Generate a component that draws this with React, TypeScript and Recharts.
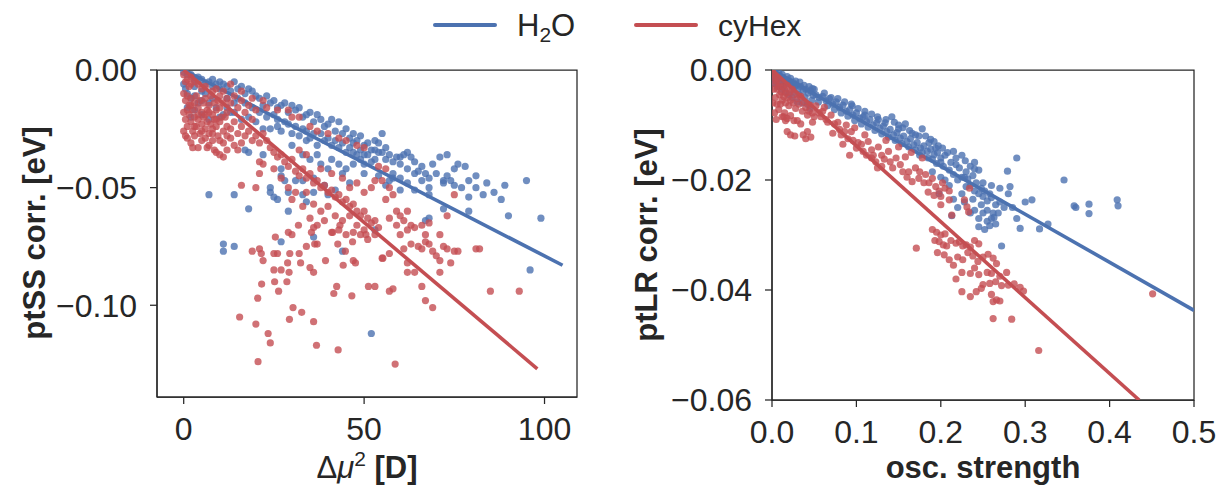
import React from "react";
import { ScatterChart, Scatter, XAxis, YAxis, ReferenceArea } from "recharts";

const BLUE = "#4C72B0";
const RED = "#C44E52";
const INK = "#262626";
const FONT = "'Liberation Sans', Arial, sans-serif";

// left panel: Δμ² [D] vs ptSS corr. [eV]
const ssXTicks = [0, 50, 100];
const ssYTicks = [0, -0.05, -0.1];

const ssWater: [number, number][] = [
  [0, -0.001], [1, -0.002], [2, -0.002], [3, -0.004], [4, -0.003], [5, -0.004], [6, -0.006], [7, -0.005], [8, -0.007], [9, -0.006],
  [10, -0.008], [11, -0.006], [12, -0.007], [13, -0.009], [14, -0.005], [15, -0.008], [16, -0.007], [17, -0.01], [18, -0.008], [19, -0.009], [20, -0.011],
  [0, -0.006], [0.5, -0.008], [1, -0.01], [2, -0.012], [3, -0.011], [4, -0.014], [5, -0.013], [6, -0.01], [7, -0.014], [8, -0.012],
  [9, -0.016], [10, -0.02], [11, -0.019], [12, -0.016], [13, -0.018], [14, -0.018], [16, -0.021], [18, -0.02], [1, -0.016], [3, -0.017], [5, -0.019], [7, -0.021], [2, -0.02],
  [21, -0.012], [22, -0.015], [23, -0.011], [24, -0.014], [25, -0.013], [26, -0.016], [27, -0.015], [28, -0.014], [29, -0.018], [30, -0.015],
  [31, -0.017], [32, -0.016], [33, -0.02], [34, -0.019], [35, -0.018], [36, -0.022], [37, -0.019], [38, -0.021], [39, -0.024], [40, -0.023],
  [41, -0.021], [42, -0.026], [43, -0.022], [44, -0.027], [45, -0.025], [46, -0.029], [47, -0.027], [48, -0.03], [49, -0.028], [50, -0.032],
  [20, -0.022], [22, -0.025], [24, -0.025], [26, -0.024], [27, -0.026], [30, -0.027], [32, -0.028], [34, -0.03], [35, -0.029], [37, -0.032],
  [39, -0.03], [41, -0.032], [43, -0.033], [45, -0.035], [47, -0.035], [48, -0.036], [49, -0.038], [50, -0.04], [51, -0.036], [52, -0.034], [53, -0.038], [54, -0.035],
  [17, -0.034], [18, -0.035], [22, -0.036], [27, -0.042], [27, -0.045], [28, -0.047], [24, -0.05], [24, -0.052], [25, -0.054], [26, -0.055],
  [29, -0.052], [33, -0.053], [34, -0.056], [36, -0.052], [31, -0.047], [33, -0.047], [36, -0.046], [39, -0.049], [40, -0.053], [42, -0.051],
  [29, -0.06], [18, -0.059], [14, -0.053], [7, -0.053], [11, -0.074], [11, -0.077], [14, -0.075], [27, -0.073], [36, -0.071], [44, -0.077],
  [53, -0.068], [52, -0.112], [40, -0.042], [44, -0.044], [46, -0.048], [38, -0.04],
  [55, -0.027], [53, -0.03], [54, -0.031], [50, -0.036], [52, -0.039], [56, -0.038], [57, -0.036], [59, -0.037], [61, -0.036], [62, -0.035],
  [63, -0.037], [64, -0.039], [60, -0.04], [71, -0.037], [73, -0.036], [69, -0.04], [76, -0.04], [78, -0.041], [75, -0.042], [73, -0.045],
  [72, -0.047], [74, -0.047], [65, -0.043], [67, -0.044], [68, -0.046], [66, -0.047], [79, -0.047], [81, -0.045], [84, -0.048], [83, -0.053],
  [89, -0.049], [95, -0.047], [90, -0.062], [99, -0.063], [96, -0.085], [75, -0.049], [72, -0.048], [79, -0.054], [79, -0.06], [72, -0.059],
  [68, -0.063], [68, -0.05], [68, -0.053], [64, -0.051], [60, -0.051], [57, -0.047], [58, -0.044], [62, -0.042], [67, -0.064], [60, -0.046],
  [3, -0.007], [5, -0.009], [8, -0.004], [10, -0.005], [12, -0.012], [14, -0.014], [15, -0.012], [17, -0.014], [19, -0.016], [21, -0.018],
  [23, -0.02], [25, -0.019], [26, -0.021], [28, -0.022], [29, -0.023], [31, -0.024], [33, -0.025], [34, -0.026], [36, -0.027], [38, -0.027],
  [40, -0.029], [42, -0.03], [44, -0.031], [46, -0.033], [47, -0.031], [49, -0.034], [51, -0.031], [53, -0.034], [55, -0.035], [56, -0.033],
  [58, -0.039], [60, -0.037], [30, -0.032], [33, -0.036], [35, -0.038], [37, -0.036], [41, -0.038], [43, -0.04], [45, -0.042], [47, -0.04],
  [50, -0.044], [54, -0.045], [56, -0.049], [58, -0.046], [62, -0.048], [64, -0.044], [66, -0.041], [70, -0.044], [77, -0.05], [81, -0.05],
  [86, -0.052], [88, -0.055],
];

const ssCyhex: [number, number][] = [
  [0, -0.002], [0.5, -0.005], [1, -0.004], [1.5, -0.007], [2, -0.006], [3, -0.005], [0, -0.01], [0.5, -0.013], [1, -0.011], [1.5, -0.015],
  [2, -0.012], [2.5, -0.017], [3, -0.014], [3.5, -0.011], [4, -0.016], [4.5, -0.013], [5, -0.018], [5.5, -0.014], [6, -0.012], [6.5, -0.017],
  [7, -0.015], [7.5, -0.011], [8, -0.019], [8.5, -0.014], [9, -0.017], [9.5, -0.013], [10, -0.016], [10.5, -0.02], [11, -0.014], [12, -0.018],
  [0, -0.018], [0.5, -0.021], [1, -0.024], [1.5, -0.019], [2, -0.022], [2.5, -0.026], [3, -0.02], [3.5, -0.024], [4, -0.021], [4.5, -0.027],
  [5, -0.023], [5.5, -0.02], [6, -0.025], [6.5, -0.022], [7, -0.027], [7.5, -0.023], [8, -0.025], [8.5, -0.021], [9, -0.024], [9.5, -0.028],
  [10, -0.022], [11, -0.026], [12, -0.024], [0, -0.026], [1, -0.029], [2, -0.031], [3, -0.028], [4, -0.033], [5, -0.03], [6, -0.029],
  [7, -0.032], [8, -0.03], [9, -0.035], [10, -0.036], [11, -0.031], [12, -0.034], [13, -0.029],
  [2, -0.003], [4, -0.006], [5, -0.008], [6, -0.007], [8, -0.009], [9, -0.008], [10, -0.011], [11, -0.009], [12, -0.012], [13, -0.014],
  [14, -0.011], [15, -0.016], [16, -0.013], [17, -0.018], [18, -0.015], [19, -0.021], [20, -0.017], [14, -0.022], [15, -0.027], [16, -0.024],
  [17, -0.028], [18, -0.026], [19, -0.03], [20, -0.028], [21, -0.031], [22, -0.027], [13, -0.025], [14, -0.032], [16, -0.031], [11, -0.037], [15, -0.034],
  [13, -0.006], [16, -0.009], [19, -0.012], [22, -0.013], [23, -0.016], [26, -0.017], [29, -0.017], [30, -0.02], [32, -0.02], [35, -0.024],
  [37, -0.026], [40, -0.027], [43, -0.029], [45, -0.03], [48, -0.032], [50, -0.033],
  [23, -0.03], [24, -0.033], [25, -0.035], [26, -0.037], [27, -0.036], [28, -0.039], [29, -0.041], [30, -0.038], [31, -0.043], [32, -0.045],
  [33, -0.042], [34, -0.046], [35, -0.044], [36, -0.048], [37, -0.047], [38, -0.05], [39, -0.049], [40, -0.052], [41, -0.051], [42, -0.054],
  [43, -0.053], [44, -0.056], [45, -0.055], [46, -0.058], [47, -0.057], [48, -0.06], [49, -0.062], [50, -0.06], [51, -0.063], [52, -0.065],
  [53, -0.064], [54, -0.067],
  [21, -0.039], [21, -0.044], [22, -0.04], [20, -0.05], [16, -0.049], [25, -0.042], [27, -0.046], [29, -0.05], [30, -0.055], [31, -0.052],
  [33, -0.058], [34, -0.052], [36, -0.057], [38, -0.06], [40, -0.058], [42, -0.062], [44, -0.064], [46, -0.062], [48, -0.066], [50, -0.068],
  [35, -0.063], [37, -0.066], [39, -0.064], [41, -0.069], [43, -0.068], [45, -0.07], [47, -0.069], [49, -0.07], [51, -0.072], [53, -0.07],
  [32, -0.034], [34, -0.036], [38, -0.042], [41, -0.044], [44, -0.046], [46, -0.05], [48, -0.048], [50, -0.052], [52, -0.05], [53, -0.047],
  [54, -0.041], [56, -0.042], [55, -0.047], [57, -0.05],
  [56, -0.055], [58, -0.053], [59, -0.06], [60, -0.062], [61, -0.064], [62, -0.06], [63, -0.066], [57, -0.063], [59, -0.066], [60, -0.07],
  [62, -0.068], [64, -0.067], [66, -0.066], [67, -0.07], [68, -0.065], [73, -0.062], [75, -0.053], [71, -0.07], [72, -0.075], [75, -0.077],
  [76, -0.077], [82, -0.076], [69, -0.077], [70, -0.079], [65, -0.075], [63, -0.074], [61, -0.076], [62, -0.082], [62, -0.086], [57, -0.078],
  [55, -0.08], [67, -0.073], [68, -0.074], [71, -0.081], [71, -0.086], [74, -0.082], [73, -0.076], [66, -0.076], [81, -0.076], [64, -0.086],
  [66, -0.092], [67, -0.098], [69, -0.101], [57, -0.094], [58, -0.093], [85, -0.094], [93, -0.094], [53, -0.092],
  [19, -0.077], [21, -0.076], [21.5, -0.078], [22, -0.081], [25, -0.078], [26, -0.078], [25.4, -0.071], [29, -0.069], [30, -0.07], [29.4, -0.078],
  [28.8, -0.082], [29.2, -0.086], [27, -0.085], [25, -0.085], [28.6, -0.09], [32, -0.078], [32.4, -0.082], [35, -0.084], [36, -0.086], [34, -0.075],
  [36.3, -0.074], [37, -0.074], [36, -0.067], [35.4, -0.069], [39.3, -0.081], [41.3, -0.069], [42.7, -0.074], [44.8, -0.077], [44.2, -0.083], [47, -0.081],
  [47.6, -0.082], [46.8, -0.073], [50.5, -0.07], [55.2, -0.08], [43.3, -0.066], [31.8, -0.066], [21.6, -0.091], [20.5, -0.097], [26.3, -0.094], [25.2, -0.09],
  [41.6, -0.095], [42.4, -0.092], [46.6, -0.096], [51.2, -0.092], [15.5, -0.105], [20, -0.108], [23.4, -0.112], [24, -0.116], [20.6, -0.124], [30.3, -0.101],
  [32.7, -0.103], [29.3, -0.106], [36, -0.107], [36.8, -0.117], [42.8, -0.119], [58.6, -0.125],
  [1, -0.017], [2, -0.015], [3, -0.024], [4, -0.019], [5, -0.026], [6, -0.019], [7, -0.018], [8, -0.027], [9, -0.021], [10, -0.03],
  [0.5, -0.028], [2.5, -0.033], [6.5, -0.033], [8.5, -0.034], [12, -0.028], [11.5, -0.02],
];

const ssWaterFit: [number, number][] = [[0, 0], [105, -0.083]];
const ssCyhexFit: [number, number][] = [[0, 0], [98, -0.127]];

// right panel: osc. strength vs ptLR corr. [eV]
const lrXTicks = [0, 0.1, 0.2, 0.3, 0.4, 0.5];
const lrYTicks = [0, -0.02, -0.04, -0.06];

const lrWater: [number, number][] = [
  [0.001, -0.0005], [0.003, -0.001], [0.005, -0.0008], [0.007, -0.0015], [0.009, -0.001], [0.011, -0.002], [0.013, -0.0014], [0.015, -0.0022],
  [0.017, -0.0018], [0.019, -0.0025], [0.021, -0.002], [0.023, -0.0028], [0.025, -0.0023], [0.027, -0.003], [0.029, -0.0027], [0.031, -0.0034],
  [0.034, -0.003], [0.037, -0.0038], [0.04, -0.0035], [0.043, -0.0042], [0.046, -0.0038], [0.049, -0.0046], [0.002, -0.002], [0.004, -0.0025],
  [0.006, -0.003], [0.008, -0.0022], [0.012, -0.0035], [0.016, -0.004], [0.02, -0.0045], [0.024, -0.005], [0.03, -0.0058], [0.036, -0.006],
  [0.042, -0.0062], [0.045, -0.007],
  [0.052, -0.0045], [0.056, -0.005], [0.06, -0.0048], [0.064, -0.0056], [0.068, -0.0052], [0.072, -0.0062], [0.076, -0.0058], [0.08, -0.0068],
  [0.084, -0.0064], [0.088, -0.0075], [0.092, -0.0072], [0.096, -0.0082], [0.1, -0.0078], [0.104, -0.0088], [0.108, -0.0085], [0.112, -0.0094],
  [0.116, -0.009], [0.12, -0.01], [0.124, -0.0096], [0.128, -0.0106], [0.132, -0.0102], [0.136, -0.0112], [0.14, -0.0108], [0.144, -0.0118],
  [0.148, -0.0114], [0.152, -0.0124], [0.156, -0.012], [0.16, -0.013], [0.164, -0.0125], [0.168, -0.0136], [0.172, -0.0132], [0.176, -0.0142],
  [0.18, -0.0138], [0.184, -0.0148], [0.188, -0.0144], [0.192, -0.0154], [0.196, -0.015], [0.2, -0.016],
  [0.095, -0.0065], [0.11, -0.0075], [0.125, -0.0085], [0.135, -0.009], [0.142, -0.0085], [0.145, -0.0095], [0.15, -0.01], [0.155, -0.0105],
  [0.158, -0.0098], [0.163, -0.011], [0.17, -0.0118], [0.178, -0.0107], [0.182, -0.012], [0.188, -0.0126], [0.192, -0.013], [0.197, -0.0138],
  [0.202, -0.0142], [0.208, -0.015], [0.215, -0.0148], [0.225, -0.0155], [0.229, -0.0165], [0.218, -0.016], [0.235, -0.0175], [0.24, -0.0168],
  [0.245, -0.0182], [0.24, -0.018],
  [0.203, -0.0175], [0.21, -0.0182], [0.215, -0.019], [0.22, -0.02], [0.225, -0.0195], [0.23, -0.0212], [0.235, -0.021], [0.24, -0.022],
  [0.245, -0.0225], [0.25, -0.023], [0.255, -0.0238], [0.26, -0.0232], [0.265, -0.0245], [0.27, -0.024], [0.275, -0.025], [0.28, -0.0225],
  [0.285, -0.025], [0.215, -0.0235], [0.22, -0.025], [0.228, -0.024], [0.235, -0.026], [0.24, -0.0255], [0.245, -0.027], [0.25, -0.026],
  [0.255, -0.0275], [0.26, -0.027], [0.265, -0.028], [0.245, -0.0285], [0.252, -0.029], [0.258, -0.0283], [0.263, -0.0268], [0.268, -0.026],
  [0.272, -0.032], [0.213, -0.0265], [0.198, -0.0225], [0.205, -0.02], [0.19, -0.0185], [0.195, -0.017], [0.23, -0.0185], [0.25, -0.0205],
  [0.26, -0.021], [0.27, -0.0215], [0.3, -0.024],
  [0.29, -0.016], [0.279, -0.0184], [0.282, -0.0212], [0.308, -0.0236], [0.29, -0.027], [0.294, -0.0288], [0.317, -0.0289], [0.327, -0.028],
  [0.346, -0.02], [0.358, -0.0247], [0.36, -0.025], [0.3756, -0.0244], [0.3756, -0.0261], [0.409, -0.0236], [0.41, -0.0247],
  [0.05, -0.0035], [0.055, -0.0058], [0.062, -0.0042], [0.066, -0.0065], [0.07, -0.005], [0.074, -0.0072], [0.078, -0.0052], [0.082, -0.0078],
  [0.086, -0.0058], [0.09, -0.0084], [0.094, -0.0062], [0.098, -0.0092], [0.102, -0.007], [0.106, -0.0098], [0.11, -0.0082], [0.114, -0.0104],
  [0.118, -0.008], [0.122, -0.011], [0.126, -0.009], [0.13, -0.0116], [0.134, -0.0096], [0.138, -0.0122], [0.146, -0.0128], [0.15, -0.0107],
  [0.154, -0.0134], [0.162, -0.014], [0.166, -0.0115], [0.17, -0.0145], [0.174, -0.012], [0.178, -0.015], [0.186, -0.0132], [0.19, -0.0162],
  [0.194, -0.0142], [0.2, -0.0168], [0.205, -0.0155], [0.212, -0.0168], [0.218, -0.0172], [0.222, -0.0178], [0.228, -0.0195], [0.232, -0.0198],
  [0.238, -0.0192], [0.242, -0.0205], [0.248, -0.0215], [0.252, -0.022], [0.258, -0.0225], [0.262, -0.026], [0.248, -0.0245], [0.255, -0.0255],
  [0.238, -0.0235], [0.225, -0.0225], [0.21, -0.021], [0.2, -0.0195], [0.185, -0.016], [0.175, -0.0155], [0.008, -0.0005], [0.012, -0.0008],
  [0.018, -0.0012], [0.022, -0.0015], [0.028, -0.002], [0.033, -0.0022], [0.038, -0.0028], [0.044, -0.003], [0.048, -0.0034], [0.01, -0.003],
  [0.014, -0.0028], [0.026, -0.004], [0.032, -0.0045], [0.039, -0.005], [0.047, -0.0055],
];

const lrCyhex: [number, number][] = [
  [0.001, -0.0005], [0.002, -0.0015], [0.003, -0.001], [0.004, -0.0025], [0.005, -0.002], [0.006, -0.0035], [0.007, -0.0015], [0.008, -0.003],
  [0.009, -0.0045], [0.01, -0.0025], [0.011, -0.004], [0.012, -0.0055], [0.013, -0.003], [0.014, -0.0048], [0.015, -0.0035], [0.016, -0.006],
  [0.017, -0.0042], [0.018, -0.0028], [0.019, -0.005], [0.02, -0.0065], [0.021, -0.004], [0.022, -0.0055], [0.024, -0.0035], [0.025, -0.006],
  [0.026, -0.0045], [0.028, -0.007], [0.03, -0.0052], [0.032, -0.0062], [0.034, -0.0048], [0.036, -0.0075], [0.038, -0.0058], [0.04, -0.0068],
  [0.042, -0.0082], [0.045, -0.0064], [0.048, -0.0078], [0.002, -0.0035], [0.004, -0.005], [0.006, -0.0062], [0.008, -0.0072], [0.01, -0.0062],
  [0.012, -0.0085], [0.015, -0.0078], [0.018, -0.0088], [0.022, -0.0083], [0.026, -0.0092], [0.003, -0.0078], [0.005, -0.009], [0.001, -0.006],
  [0.018, -0.0112], [0.022, -0.0118], [0.027, -0.012], [0.037, -0.0118], [0.042, -0.0112], [0.046, -0.0122], [0.04, -0.0125],
  [0.016, -0.0092], [0.014, -0.0085], [0.03, -0.0092], [0.034, -0.0098], [0.048, -0.0095], [0.05, -0.0085], [0.044, -0.0075], [0.058, -0.0085],
  [0.064, -0.009], [0.078, -0.0095], [0.072, -0.0115], [0.082, -0.0118], [0.084, -0.0135], [0.094, -0.0112], [0.092, -0.0155], [0.102, -0.0132],
  [0.106, -0.0135], [0.114, -0.013], [0.118, -0.0145], [0.126, -0.014], [0.13, -0.0155], [0.118, -0.016], [0.138, -0.0148], [0.14, -0.0167],
  [0.147, -0.016], [0.152, -0.0172], [0.13, -0.0175], [0.123, -0.0167], [0.158, -0.0158], [0.162, -0.0185], [0.17, -0.0178], [0.174, -0.0197],
  [0.166, -0.0203], [0.182, -0.019], [0.186, -0.0205], [0.19, -0.0197], [0.194, -0.0212], [0.198, -0.022], [0.2, -0.023], [0.205, -0.0215],
  [0.21, -0.0236], [0.213, -0.0264], [0.228, -0.0236], [0.231, -0.0249], [0.233, -0.0258], [0.234, -0.0215], [0.06, -0.0075], [0.07, -0.0082],
  [0.088, -0.01], [0.098, -0.0105], [0.11, -0.0118], [0.135, -0.0128], [0.15, -0.014], [0.165, -0.015], [0.178, -0.016],
  [0.171, -0.0324], [0.19, -0.029], [0.195, -0.0295], [0.2, -0.03], [0.205, -0.0298], [0.193, -0.031], [0.198, -0.0312], [0.203, -0.0318],
  [0.207, -0.032], [0.196, -0.0332], [0.204, -0.0336], [0.212, -0.031], [0.218, -0.0315], [0.222, -0.0312], [0.226, -0.032], [0.23, -0.0318],
  [0.235, -0.0322], [0.24, -0.031], [0.245, -0.0316], [0.22, -0.034], [0.226, -0.0345], [0.232, -0.0332], [0.238, -0.0338], [0.244, -0.0348],
  [0.25, -0.034], [0.256, -0.0335], [0.262, -0.0342], [0.266, -0.0352], [0.24, -0.036], [0.235, -0.037], [0.225, -0.0368], [0.245, -0.0372],
  [0.255, -0.0368], [0.26, -0.037], [0.27, -0.0375], [0.278, -0.0368], [0.25, -0.039], [0.258, -0.0388], [0.265, -0.0385], [0.272, -0.0392],
  [0.28, -0.0391], [0.287, -0.0389], [0.294, -0.0395], [0.298, -0.0402], [0.225, -0.0403], [0.235, -0.0412], [0.242, -0.0403], [0.248, -0.0397],
  [0.26, -0.0408], [0.266, -0.0418], [0.262, -0.0421], [0.27, -0.042], [0.262, -0.0452], [0.284, -0.0453], [0.316, -0.051], [0.451, -0.0407],
  [0.215, -0.0355], [0.21, -0.0345], [0.218, -0.038],
  [0.052, -0.0065], [0.056, -0.0078], [0.062, -0.0068], [0.066, -0.0095], [0.074, -0.0098], [0.08, -0.0108], [0.086, -0.0112], [0.09, -0.0125],
  [0.096, -0.0128], [0.1, -0.0142], [0.108, -0.0148], [0.112, -0.0155], [0.12, -0.0155], [0.125, -0.0178], [0.133, -0.0162], [0.143, -0.0178],
  [0.155, -0.0185], [0.16, -0.0195], [0.175, -0.0185], [0.18, -0.0205], [0.185, -0.0222], [0.192, -0.0228], [0.202, -0.0205], [0.2, -0.0245],
  [0.21, -0.022],
];

const lrWaterFit: [number, number][] = [[0, 0], [0.5, -0.0437]];
const lrCyhexFit: [number, number][] = [[0, 0], [0.435, -0.06]];

const toPts = (a: [number, number][]) => a.map(([x, y]) => ({ x, y }));

const dot = (color: string) => (p: any) =>
  p.cx == null ? <g /> : <circle cx={p.cx} cy={p.cy} r={3.6} fill={color} fillOpacity={0.8} />;
const noDot = () => <g />;

const fmtY = (v: number) => (v === 0 ? "0.00" : "\u2212" + Math.abs(v).toFixed(2));

const tickStyle = { fontSize: 32, fill: INK, fontFamily: FONT };

function Panel(props: {
  left: number;
  width: number;
  yAxisWidth: number;
  right: number;
  bottom: number;
  xDomain: [number, number];
  yDomain: [number, number];
  xTicks: number[];
  yTicks: number[];
  fmtX: (v: number) => string;
  water: [number, number][];
  cyhex: [number, number][];
  waterFit: [number, number][];
  cyhexFit: [number, number][];
}) {
  const p = props;
  return (
    <div style={{ position: "absolute", left: p.left, top: 0 }}>
      <ScatterChart width={p.width} height={495} margin={{ top: 70, right: p.right, bottom: p.bottom, left: 0 }}>
        <XAxis
          type="number"
          dataKey="x"
          domain={p.xDomain}
          ticks={p.xTicks}
          tickFormatter={p.fmtX}
          allowDataOverflow
          height={60}
          tick={tickStyle}
          tickSize={7}
          tickMargin={13}
          stroke={INK}
          strokeWidth={1.25}
        />
        <YAxis
          type="number"
          dataKey="y"
          domain={p.yDomain}
          ticks={p.yTicks}
          tickFormatter={fmtY}
          allowDataOverflow
          width={p.yAxisWidth}
          tick={tickStyle}
          tickSize={7}
          tickMargin={13}
          stroke={INK}
          strokeWidth={1.25}
        />
        <Scatter data={toPts(p.water)} shape={dot(BLUE)} isAnimationActive={false} />
        <Scatter
          data={toPts(p.waterFit)}
          line={{ stroke: BLUE, strokeWidth: 3.6 }}
          shape={noDot}
          isAnimationActive={false}
        />
        <Scatter data={toPts(p.cyhex)} shape={dot(RED)} isAnimationActive={false} />
        <Scatter
          data={toPts(p.cyhexFit)}
          line={{ stroke: RED, strokeWidth: 3.6 }}
          shape={noDot}
          isAnimationActive={false}
        />
        <ReferenceArea
          x1={p.xDomain[0]}
          x2={p.xDomain[1]}
          y1={p.yDomain[0]}
          y2={p.yDomain[1]}
          fill="none"
          stroke={INK}
          strokeWidth={1.25}
          ifOverflow="visible"
        />
      </ScatterChart>
    </div>
  );
}

export default function App() {
  return (
    <div style={{ position: "absolute", left: 0, top: 0, width: 1217, height: 495, background: "#fff", fontFamily: FONT }}>
      <Panel
        left={0}
        width={600}
        yAxisWidth={157}
        right={23}
        bottom={38}
        xDomain={[-7.4, 109]}
        yDomain={[-0.139, 0]}
        xTicks={ssXTicks}
        yTicks={ssYTicks}
        fmtX={(v) => String(v)}
        water={ssWater}
        cyhex={ssCyhex}
        waterFit={ssWaterFit}
        cyhexFit={ssCyhexFit}
      />
      <Panel
        left={620}
        width={597}
        yAxisWidth={152}
        right={23}
        bottom={35}
        xDomain={[0, 0.5]}
        yDomain={[-0.06, 0]}
        xTicks={lrXTicks}
        yTicks={lrYTicks}
        fmtX={(v) => v.toFixed(1)}
        water={lrWater}
        cyhex={lrCyhex}
        waterFit={lrWaterFit}
        cyhexFit={lrCyhexFit}
      />
      <svg width={1217} height={495} style={{ position: "absolute", left: 0, top: 0, pointerEvents: "none" }}>
        <g fontFamily={FONT} fill={INK}>
          <line x1={435} y1={25} x2={495} y2={25} stroke={BLUE} strokeWidth={4} strokeLinecap="round" />
          <text x={517} y={36} fontSize={31}>
            H<tspan fontSize={21} dy={6}>2</tspan><tspan dy={-6}>O</tspan>
          </text>
          <line x1={636} y1={25} x2={696} y2={25} stroke={RED} strokeWidth={4} strokeLinecap="round" />
          <text x={718} y={36} fontSize={30}>cyHex</text>

          <text x={0} y={0} transform="translate(45,233) rotate(-90)" textAnchor="middle" fontSize={31} fontWeight="bold">
            ptSS corr. [eV]
          </text>
          <text x={0} y={0} transform="translate(657,235) rotate(-90)" textAnchor="middle" fontSize={31} fontWeight="bold">
            ptLR corr. [eV]
          </text>
          <text x={367} y={478} textAnchor="middle" fontSize={31}>
            Δ<tspan fontStyle="italic">μ</tspan>
            <tspan fontSize={21} dy={-12}>2</tspan>
            <tspan dy={12} fontWeight="bold"> [D]</tspan>
          </text>
          <text x={983} y={478} textAnchor="middle" fontSize={31} fontWeight="bold">
            osc. strength
          </text>
        </g>
      </svg>
    </div>
  );
}
